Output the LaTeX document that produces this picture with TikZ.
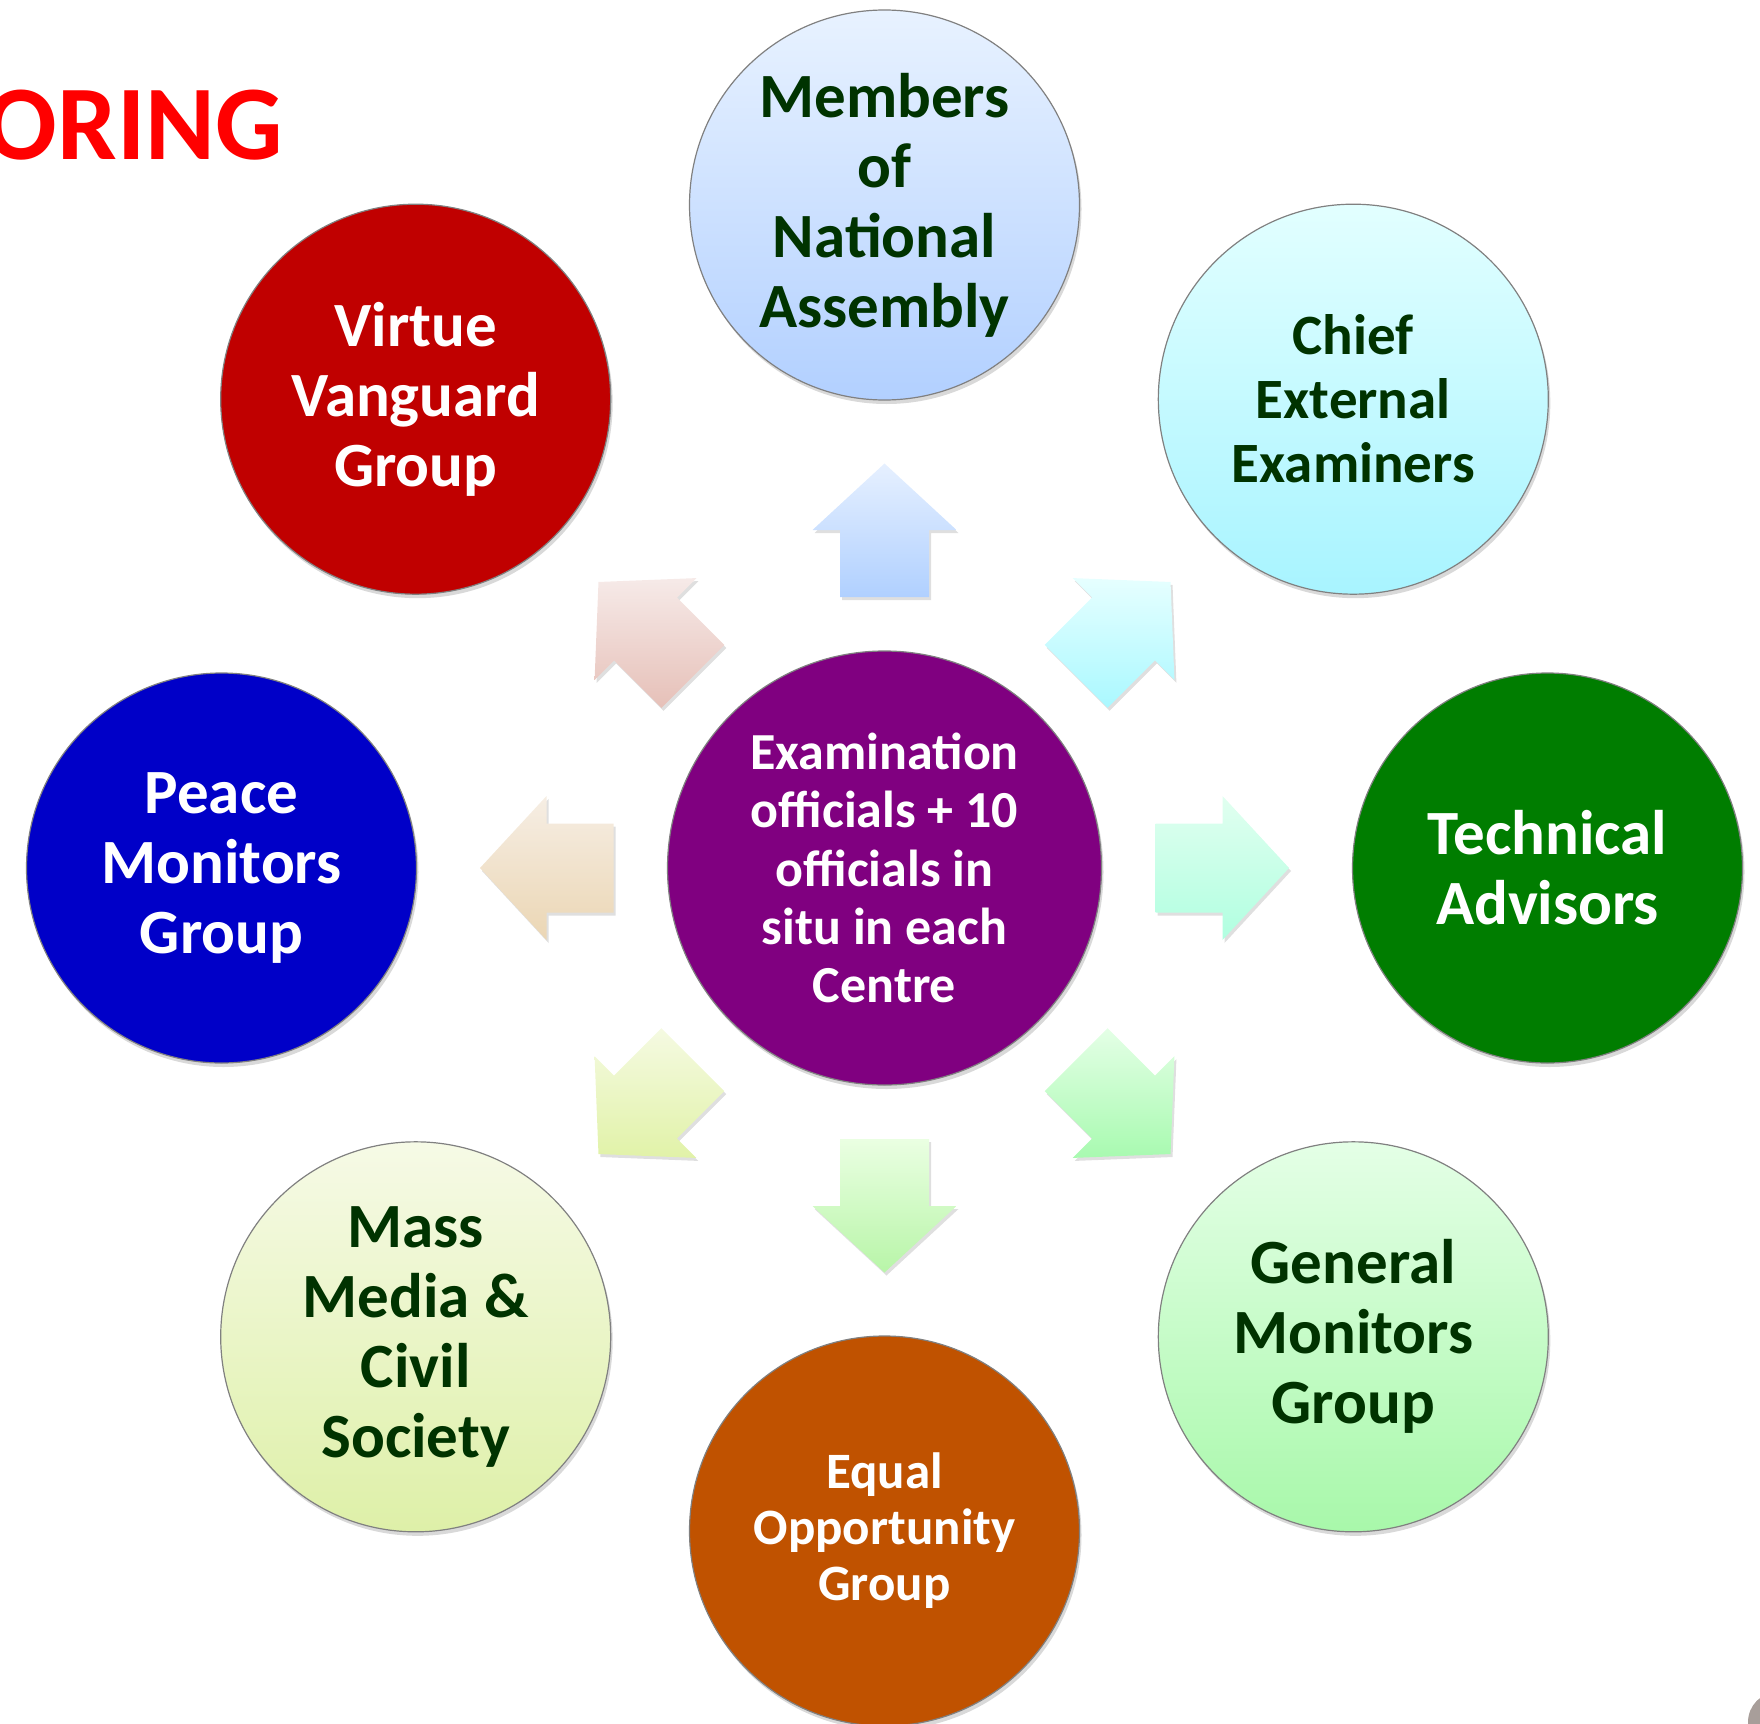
\documentclass[tikz,border=0pt]{standalone}
\usepackage{fontspec}
\setmainfont{Carlito}
\usetikzlibrary{calc,shadows}

\definecolor{txtgreen}{RGB}{0,51,0}
\definecolor{hubpurple}{RGB}{128,0,128}
\definecolor{techgreen}{RGB}{0,125,0}
\definecolor{equalorange}{RGB}{192,82,0}
\definecolor{peaceblue}{RGB}{0,0,200}
\definecolor{virtuered}{RGB}{192,0,0}
\definecolor{titlered}{RGB}{255,0,0}
\definecolor{cornergray}{RGB}{168,158,154}
% circle gradients
\definecolor{memtop}{RGB}{232,242,255}\definecolor{membot}{RGB}{178,208,255}
\definecolor{chitop}{RGB}{226,255,255}\definecolor{chibot}{RGB}{168,244,255}
\definecolor{gentop}{RGB}{228,255,230}\definecolor{genbot}{RGB}{168,248,170}
\definecolor{mastop}{RGB}{246,250,230}\definecolor{masbot}{RGB}{222,240,168}
% arrow gradients
\definecolor{arNa}{RGB}{230,240,255}\definecolor{arNb}{RGB}{176,208,255}
\definecolor{arNEa}{RGB}{230,255,255}\definecolor{arNEb}{RGB}{170,248,255}
\definecolor{arEa}{RGB}{225,255,240}\definecolor{arEb}{RGB}{176,255,224}
\definecolor{arSEa}{RGB}{228,255,230}\definecolor{arSEb}{RGB}{168,250,176}
\definecolor{arSa}{RGB}{234,255,226}\definecolor{arSb}{RGB}{184,245,168}
\definecolor{arSWa}{RGB}{245,250,226}\definecolor{arSWb}{RGB}{225,242,168}
\definecolor{arWa}{RGB}{246,238,228}\definecolor{arWb}{RGB}{235,214,180}
\definecolor{arNWa}{RGB}{246,234,232}\definecolor{arNWb}{RGB}{230,192,184}

\begin{document}
\begin{tikzpicture}[x=1pt,y=-1pt]
    \tikzstyle{every node}=[inner sep=0,align=center]
    \tikzstyle{group}=[circle,minimum size=390,draw=black!50,line width=1.2,
        drop shadow={opacity=0.3,shadow xshift=2pt,shadow yshift=-4pt}]
    \tikzstyle{light}=[group,text=txtgreen]
    \tikzstyle{solid}=[group,text=white]
    \tikzstyle{big}=[font=\fontsize{63}{70}\selectfont\bfseries]
    \tikzstyle{mid}=[font=\fontsize{57}{64}\selectfont\bfseries]
    \tikzstyle{small}=[font=\fontsize{51}{56}\selectfont\bfseries]
    \tikzstyle{spoke}=[drop shadow={opacity=0.25,shadow xshift=2pt,shadow yshift=-3pt}]
    {
        \useasboundingbox (0,0) rectangle (1760,1723);

        \node[font=\fontsize{106}{120}\selectfont\bfseries,text=titlered,anchor=base east] (title) at (283,160) {ORING};
        \fill[cornergray] (1778,1722) circle (30);

        % hub
        \node[solid,minimum size=434,fill=hubpurple,font=\fontsize{52}{58.4}\selectfont\bfseries] (hub) at (884.5,868)
            {Examination\\officials + 10\\officials in\\situ in each\\Centre};

        % arrows
        \foreach \ang/\ca/\cb in {-90/arNa/arNb,-45/arNEa/arNEb,0/arEa/arEb,45/arSEa/arSEb,
                                  90/arSa/arSb,135/arSWa/arSWb,180/arWa/arWb,225/arNWa/arNWb}
            \path[spoke,top color=\ca,bottom color=\cb]
                ($(hub)+(\ang:271)+(\ang+90:44.5)$) -- ($(hub)+(\ang:338)+(\ang+90:44.5)$)
                -- ($(hub)+(\ang:338)+(\ang+90:72)$) -- ($(hub)+(\ang:404.5)$)
                -- ($(hub)+(\ang:338)+(\ang-90:72)$) -- ($(hub)+(\ang:338)+(\ang-90:44.5)$)
                -- ($(hub)+(\ang:271)+(\ang-90:44.5)$) -- cycle;

        % outer groups
        \node[light,big,top color=memtop,bottom color=membot] (members) at ($(hub)+(-90:663)$)
            {Members\\of\\National\\Assembly};
        \node[light,mid,top color=chitop,bottom color=chibot] (chief) at ($(hub)+(-45:663)$)
            {Chief\\External\\Examiners};
        \node[solid,big,fill=techgreen] (technical) at ($(hub)+(0:663)$)
            {Technical\\Advisors};
        \node[light,big,top color=gentop,bottom color=genbot] (general) at ($(hub)+(45:663)$)
            {General\\Monitors\\Group};
        \node[solid,small,fill=equalorange] (equal) at ($(hub)+(90:663)$)
            {Equal\\Opportunity\\Group};
        \node[light,big,top color=mastop,bottom color=masbot] (mass) at ($(hub)+(135:663)$)
            {Mass\\Media \&\\Civil\\Society};
        \node[solid,big,fill=peaceblue] (peace) at ($(hub)+(180:663)$)
            {Peace\\Monitors\\Group};
        \node[solid,big,fill=virtuered] (virtue) at ($(hub)+(225:663)$)
            {Virtue\\Vanguard\\Group};
    }
\end{tikzpicture}
\end{document}
